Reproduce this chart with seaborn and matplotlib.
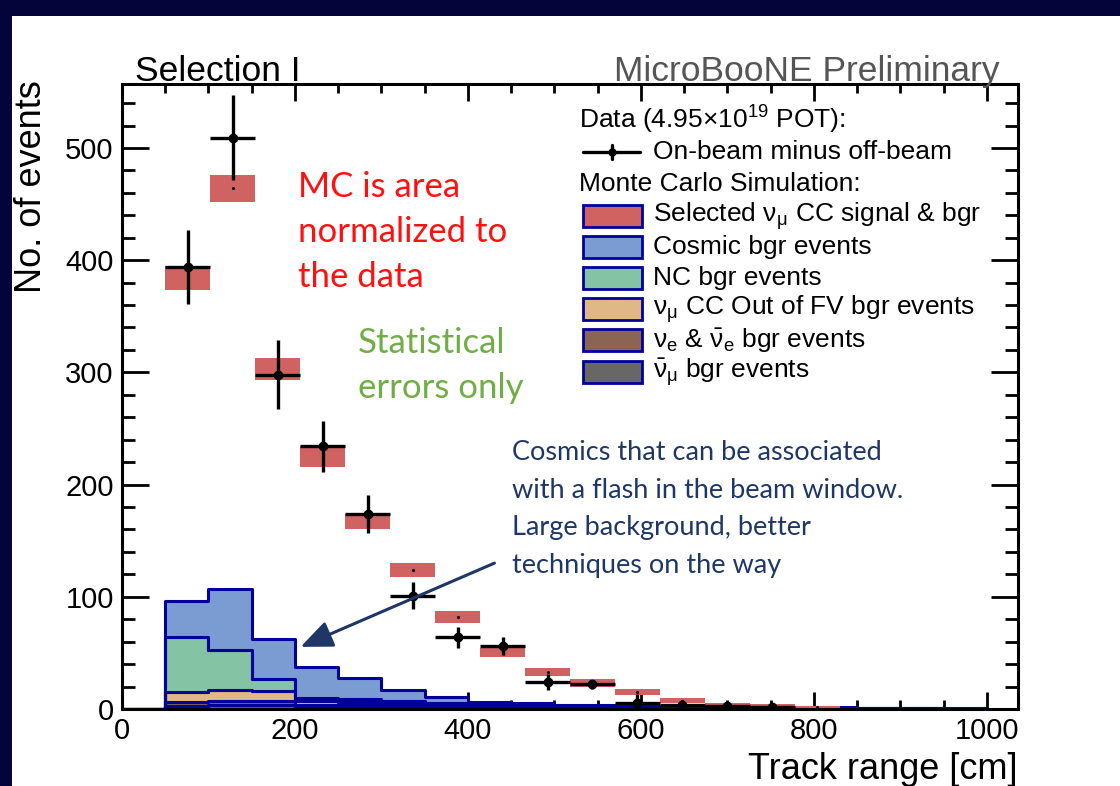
import numpy as np
import pandas as pd
import matplotlib
matplotlib.use("Agg")
import matplotlib.pyplot as plt
import seaborn as sns
from matplotlib.patches import Rectangle, FancyArrowPatch
from matplotlib.lines import Line2D
from matplotlib.ticker import MultipleLocator

# ---------------- data ----------------
# stacked MC backgrounds, 50 cm bins from 0 to 1000 cm
bkg_edges = list(range(0, 1001, 50))
bkg_centers = [e + 25 for e in bkg_edges[:-1]]
cosmic  = [0, 32, 54, 35, 27, 19, 10, 5.5, 2.5, 2.5, 1.5, 1.5, 1.5, 1.3, 1.0, 0.9, 0.7, 0.6, 0.5, 0.4]
nc      = [0, 49, 36, 11, 3, 3, 2.5, 2, 1, 1, 1, 0.8, 0.5, 0.4, 0.4, 0.3, 0.3, 0.2, 0.2, 0.1]
outfv   = [0, 9, 10, 9, 3, 2.5, 1.5, 1.5, 1, 0.8, 0.5, 0.4, 0.4, 0.3, 0.2, 0.2, 0.2, 0.2, 0.1, 0.1]
nue     = [0, 3, 3, 3, 2, 1.5, 1.5, 1, 0.7, 0.6, 0.5, 0.4, 0.3, 0.2, 0.2, 0.2, 0.1, 0.1, 0.1, 0.1]
numubar = [0, 3, 4, 4, 2, 2, 1.5, 1, 0.8, 0.6, 0.5, 0.4, 0.3, 0.3, 0.2, 0.2, 0.2, 0.1, 0.1, 0.1]

# data / selected MC histogram (its own binning)
data_lo = 50
data_width = 52
data_vals = [394, 509, 298, 234, 174, 101, 64, 56, 24, 22, 5, 4, 3, 2]
data_err  = [33, 38, 31, 23, 17, 12, 9.5, 8, 7, 4, 8, 4, 3, 3]
mc_vals = [384, 464, 303, 225, 167, 124, 82, 50, 33, 23, 15, 7.5, 4, 3, 1.5]
mc_err  = [11, 12, 10, 9, 7, 6, 5, 4, 3.5, 3.5, 2.7, 2, 1.5, 1.2, 1.0]

legend_labels = [
    r"Selected $\mathrm{\nu_{\mu}}$ CC signal & bgr",
    "Cosmic bgr events",
    "NC bgr events",
    r"$\mathrm{\nu_{\mu}}$ CC Out of FV bgr events",
    r"$\mathrm{\nu_{e}}$ & $\mathrm{\bar{\nu}_{e}}$ bgr events",
    r"$\mathrm{\bar{\nu}_{\mu}}$ bgr events",
]
comp_names = ["Cosmic", "NC", "OutFV", "nue", "numubar"]
comp_colors = ["#7b9bd3", "#84c4a4", "#dfb886", "#8b6553", "#676767"]
sel_color = "#d06262"
edge_blue = "#00009a"

# ---------------- style ----------------
sns.set_style("ticks")
plt.rcParams["font.family"] = ["Liberation Sans", "DejaVu Sans"]
plt.rcParams["text.color"] = "black"
plt.rcParams["xtick.labelcolor"] = "black"
plt.rcParams["ytick.labelcolor"] = "black"
plt.rcParams["mathtext.fontset"] = "custom"
plt.rcParams["mathtext.rm"] = "Liberation Sans"
plt.rcParams["mathtext.it"] = "Liberation Sans:italic"
plt.rcParams["mathtext.bf"] = "Liberation Sans:bold"

W, H = 1120, 786
fig = plt.figure(figsize=(W / 100, H / 100), dpi=100, facecolor="#04043a")

def fx(x):
    return x / W

def fy(y):
    return 1 - y / H

# white slide panel
fig.patches.append(Rectangle((fx(12), 0), 1 - fx(12), fy(16), transform=fig.transFigure,
                             facecolor="white", edgecolor="none", zorder=-5))

ax = fig.add_axes([fx(122), fy(709), fx(1018) - fx(122), fy(84) - fy(709)])
ax.set_zorder(2)
ax.set_facecolor("none")

# stacked backgrounds via seaborn
rows = []
for name, vals in zip(comp_names, [cosmic, nc, outfv, nue, numubar]):
    for c, v in zip(bkg_centers, vals):
        rows.append({"x": c, "w": v, "comp": name})
df = pd.DataFrame(rows)
sns.histplot(data=df, x="x", weights="w", hue="comp", hue_order=comp_names,
             palette=dict(zip(comp_names, comp_colors)), bins=bkg_edges,
             multiple="stack", element="step", fill=True, alpha=1,
             edgecolor=edge_blue, linewidth=2.2, legend=False, ax=ax, zorder=2)

# selected MC boxes (with stat error)
mc_centers = data_lo + data_width * (np.arange(len(mc_vals)) + 0.5)
mc_vals_a = np.array(mc_vals)
mc_err_a = np.array(mc_err)
ax.bar(mc_centers, 2 * mc_err_a, bottom=mc_vals_a - mc_err_a, width=data_width,
       color=sel_color, linewidth=0, zorder=3)
ax.plot(mc_centers, mc_vals_a, linestyle="none", marker="o", ms=1.2, color="black", zorder=4)

# data points
d_centers = data_lo + data_width * (np.arange(len(data_vals)) + 0.5)
ax.errorbar(d_centers, data_vals, xerr=data_width / 2, yerr=data_err, fmt="o",
            color="black", ms=6, elinewidth=2.4, capsize=0, zorder=5)

ax.set_xlim(0, 1036)
ax.set_ylim(0, 557)
ax.set_xlabel("")
ax.set_ylabel("")
ax.xaxis.set_major_locator(MultipleLocator(200))
ax.xaxis.set_minor_locator(MultipleLocator(50))
ax.yaxis.set_major_locator(MultipleLocator(100))
ax.yaxis.set_minor_locator(MultipleLocator(20))
for s in ax.spines.values():
    s.set_visible(True)
    s.set_linewidth(2.2)
    s.set_color("black")
    s.set_zorder(6)
ax.tick_params(axis="both", which="both", direction="in", top=True, right=True,
               width=2.0, color="black", labelsize=21, labelcolor="black")
ax.tick_params(axis="x", which="major", length=12.5, pad=6)
ax.tick_params(axis="x", which="minor", length=6.5)
ax.tick_params(axis="y", which="major", length=19.5, pad=6)
ax.tick_params(axis="y", which="minor", length=9.5)

# axis titles
fig.text(fx(1018), fy(779), "Track range [cm]", ha="right", va="baseline", fontsize=26)
fig.text(fx(32), fy(80), "No. of events", ha="center", va="top", rotation=90, fontsize=26)
fig.text(fx(135), fy(81), "Selection I", ha="left", va="baseline", fontsize=25.5)
fig.text(fx(1000), fy(81), "MicroBooNE Preliminary", ha="right", va="baseline",
         fontsize=25.5, color="#555555")

# legend (ROOT-like, no frame)
leg_fs = 19
fig.text(fx(579), fy(120), r"Data (4.95$\times$10$^{19}$ POT):", ha="left", va="center", fontsize=leg_fs)
fig.add_artist(Line2D([fx(583), fx(640)], [fy(152), fy(152)], color="black", lw=2.4,
                      transform=fig.transFigure))
fig.add_artist(Line2D([fx(612), fx(612)], [fy(145), fy(159)], color="black", lw=2.4,
                      transform=fig.transFigure))
fig.add_artist(Line2D([fx(612)], [fy(152)], color="black", marker="o", ms=5,
                      transform=fig.transFigure))
fig.text(fx(653), fy(152), "On-beam minus off-beam", ha="left", va="center", fontsize=leg_fs)
fig.text(fx(579), fy(184), "Monte Carlo Simulation:", ha="left", va="center", fontsize=leg_fs)
row_y = [216, 247, 278, 309, 340, 372]
for yy, lab, col in zip(row_y, legend_labels, [sel_color] + comp_colors):
    fig.patches.append(Rectangle((fx(583), fy(yy + 11)), fx(642) - fx(583), fy(yy - 11) - fy(yy + 11),
                                 transform=fig.transFigure, facecolor=col,
                                 edgecolor=edge_blue, linewidth=2.0, zorder=3))
    fig.text(fx(653), fy(yy), lab, ha="left", va="center", fontsize=leg_fs)

# slide annotations
slide_font = ["Lato", "DejaVu Sans"]
for yy, t in zip([187, 232, 277], ["MC is area", "normalized to", "the data"]):
    fig.text(fx(298), fy(yy), t, ha="left", va="center", fontsize=25, color="#ff1010", family=slide_font)
for yy, t in zip([343, 388], ["Statistical", "errors only"]):
    fig.text(fx(358), fy(yy), t, ha="left", va="center", fontsize=25, color="#70ad47", family=slide_font)
for yy, t in zip([452, 490, 528, 566], ["Cosmics that can be associated",
                                         "with a flash in the beam window.",
                                         "Large background, better",
                                         "techniques on the way"]):
    fig.text(fx(512), fy(yy), t, ha="left", va="center", fontsize=19.5, color="#1f3767", family=slide_font)

arrow = FancyArrowPatch((fx(497), fy(562)), (fx(298), fy(648)), transform=fig.transFigure,
                        arrowstyle="-|>,head_length=1.3,head_width=0.55", mutation_scale=15,
                        color="#1f3767", lw=2.2, zorder=10)
fig.add_artist(arrow)
arrow.set_zorder(10)

fig.savefig("out.png", dpi=100, facecolor=fig.get_facecolor())
